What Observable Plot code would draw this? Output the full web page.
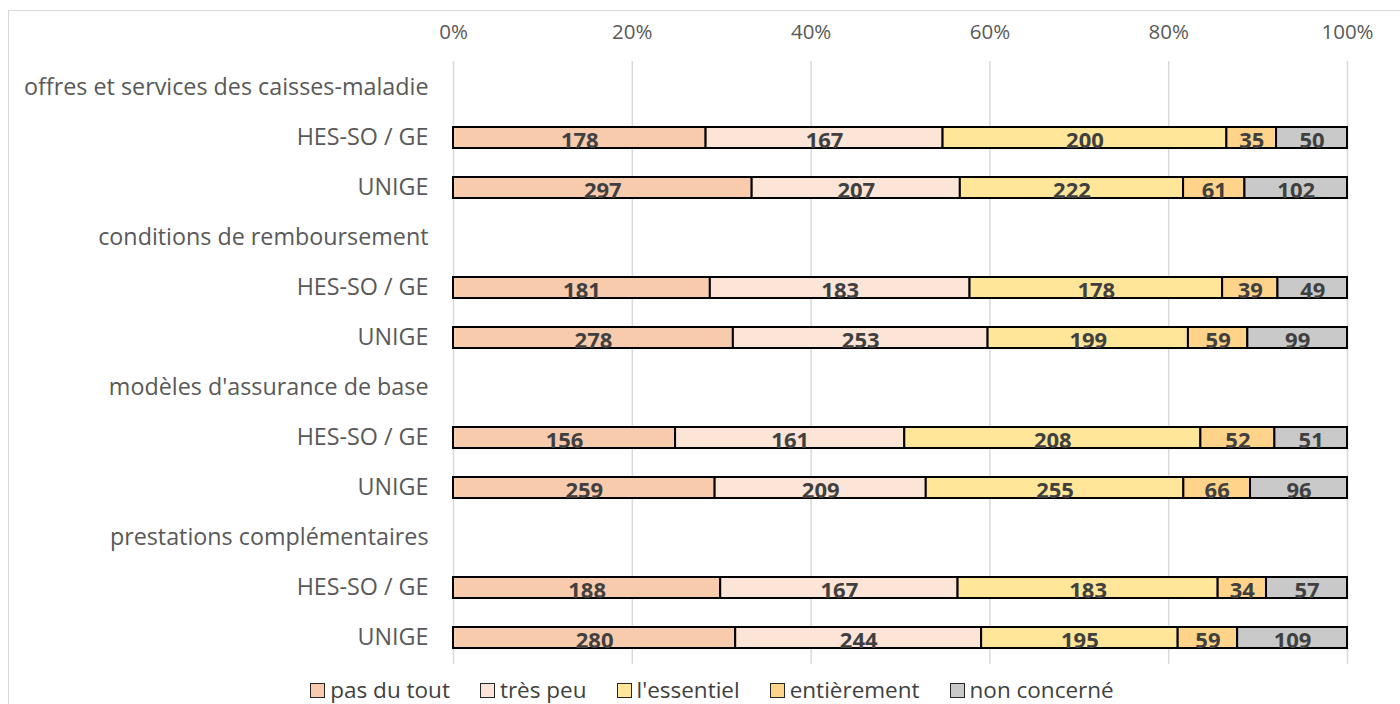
<!DOCTYPE html>
<html><head><meta charset="utf-8">
<script src="https://cdn.jsdelivr.net/npm/d3@7"></script>
<script src="https://cdn.jsdelivr.net/npm/@observablehq/plot@0.6"></script>
<style>
body{margin:0;background:#fff;font-family:"Open Sans",Lato,sans-serif;overflow:hidden}
#frame{position:absolute;left:8px;top:10px;width:1500px;height:800px;border:1px solid #d9d9d9;box-sizing:border-box}
#chart{position:absolute;left:0;top:0}
#legend{position:absolute;left:0;top:678px;width:1400px;height:24px;line-height:1;display:flex;justify-content:center;align-items:center;font-size:22.5px;color:#404040;padding-left:24px;box-sizing:border-box}
.item{display:flex;align-items:center;margin:0 15px}
.sw{width:13px;height:13px;border:1.5px solid #262626;margin-right:5px}
</style></head>
<body>
<div id="frame"></div>
<div id="chart"></div>
<div id="legend"></div>
<script>
const categories = ["pas du tout", "très peu", "l'essentiel", "entièrement", "non concerné"];
const colors = ["#F8CBAD", "#FCE4D6", "#FFE699", "#FFD48A", "#C9C9C9"];
const topics = ["offres et services des caisses-maladie", "conditions de remboursement", "modèles d'assurance de base", "prestations complémentaires"];
const schools = ["HES-SO / GE", "UNIGE"];
const hesValues = [
  [178, 167, 200, 35, 50],
  [181, 183, 178, 39, 49],
  [156, 161, 208, 52, 51],
  [188, 167, 183, 34, 57]
];
const unigeValues = [
  [297, 207, 222, 61, 102],
  [278, 253, 199, 59, 99],
  [259, 209, 255, 66, 96],
  [280, 244, 195, 59, 109]
];
const xTicks = [0, 20, 40, 60, 80, 100];

const rows = [];
const labels = new Map();
const data = [];
topics.forEach((t, i) => {
  const hk = "h" + i; rows.push(hk); labels.set(hk, t);
  [hesValues[i], unigeValues[i]].forEach((vals, j) => {
    const k = "r" + i + "_" + j; rows.push(k); labels.set(k, schools[j]);
    vals.forEach((v, c) => data.push({row: k, cat: categories[c], value: v}));
  });
});
const tickFractions = xTicks.map(d => d / 100);

const chart = Plot.plot({
  width: 1400, height: 676,
  marginTop: 61, marginBottom: 12, marginLeft: 453, marginRight: 53,
  style: {fontFamily: "'Open Sans', Lato, sans-serif", background: "transparent"},
  x: {domain: [0, 1], axis: null},
  y: {domain: rows, paddingInner: 0.58, paddingOuter: 0.29, axis: null, label: null},
  color: {domain: categories, range: colors},
  marks: [
    Plot.gridX(tickFractions, {stroke: "#d9d9d9", strokeOpacity: 1, strokeWidth: 1.5}),
    Plot.axisX({anchor: "top", ticks: tickFractions, tickSize: 0, tickPadding: 23, tickFormat: d => Math.round(d * 100) + "%", fontSize: 20.5, color: "#595959", label: null}),
    Plot.axisY({ticks: rows, tickSize: 0, tickPadding: 25, tickFormat: d => labels.get(d), fontSize: 23.3, color: "#595959", label: null}),
    Plot.barX(data, Plot.stackX({x: "value", y: "row", fill: "cat", offset: "normalize", stroke: "#000", strokeWidth: 2})),
    Plot.text(data, Plot.stackX({x: "value", y: "row", z: "cat", offset: "normalize", text: d => String(d.value), fill: "#404040", fontWeight: "bold", fontSize: 22, dy: 3}))
  ]
});
document.getElementById("chart").appendChild(chart);

const leg = document.getElementById("legend");
categories.forEach((c, i) => {
  const it = document.createElement("div"); it.className = "item";
  const sw = document.createElement("span"); sw.className = "sw"; sw.style.background = colors[i];
  const tx = document.createElement("span"); tx.textContent = c;
  it.appendChild(sw); it.appendChild(tx); leg.appendChild(it);
});
</script>
</body></html>
